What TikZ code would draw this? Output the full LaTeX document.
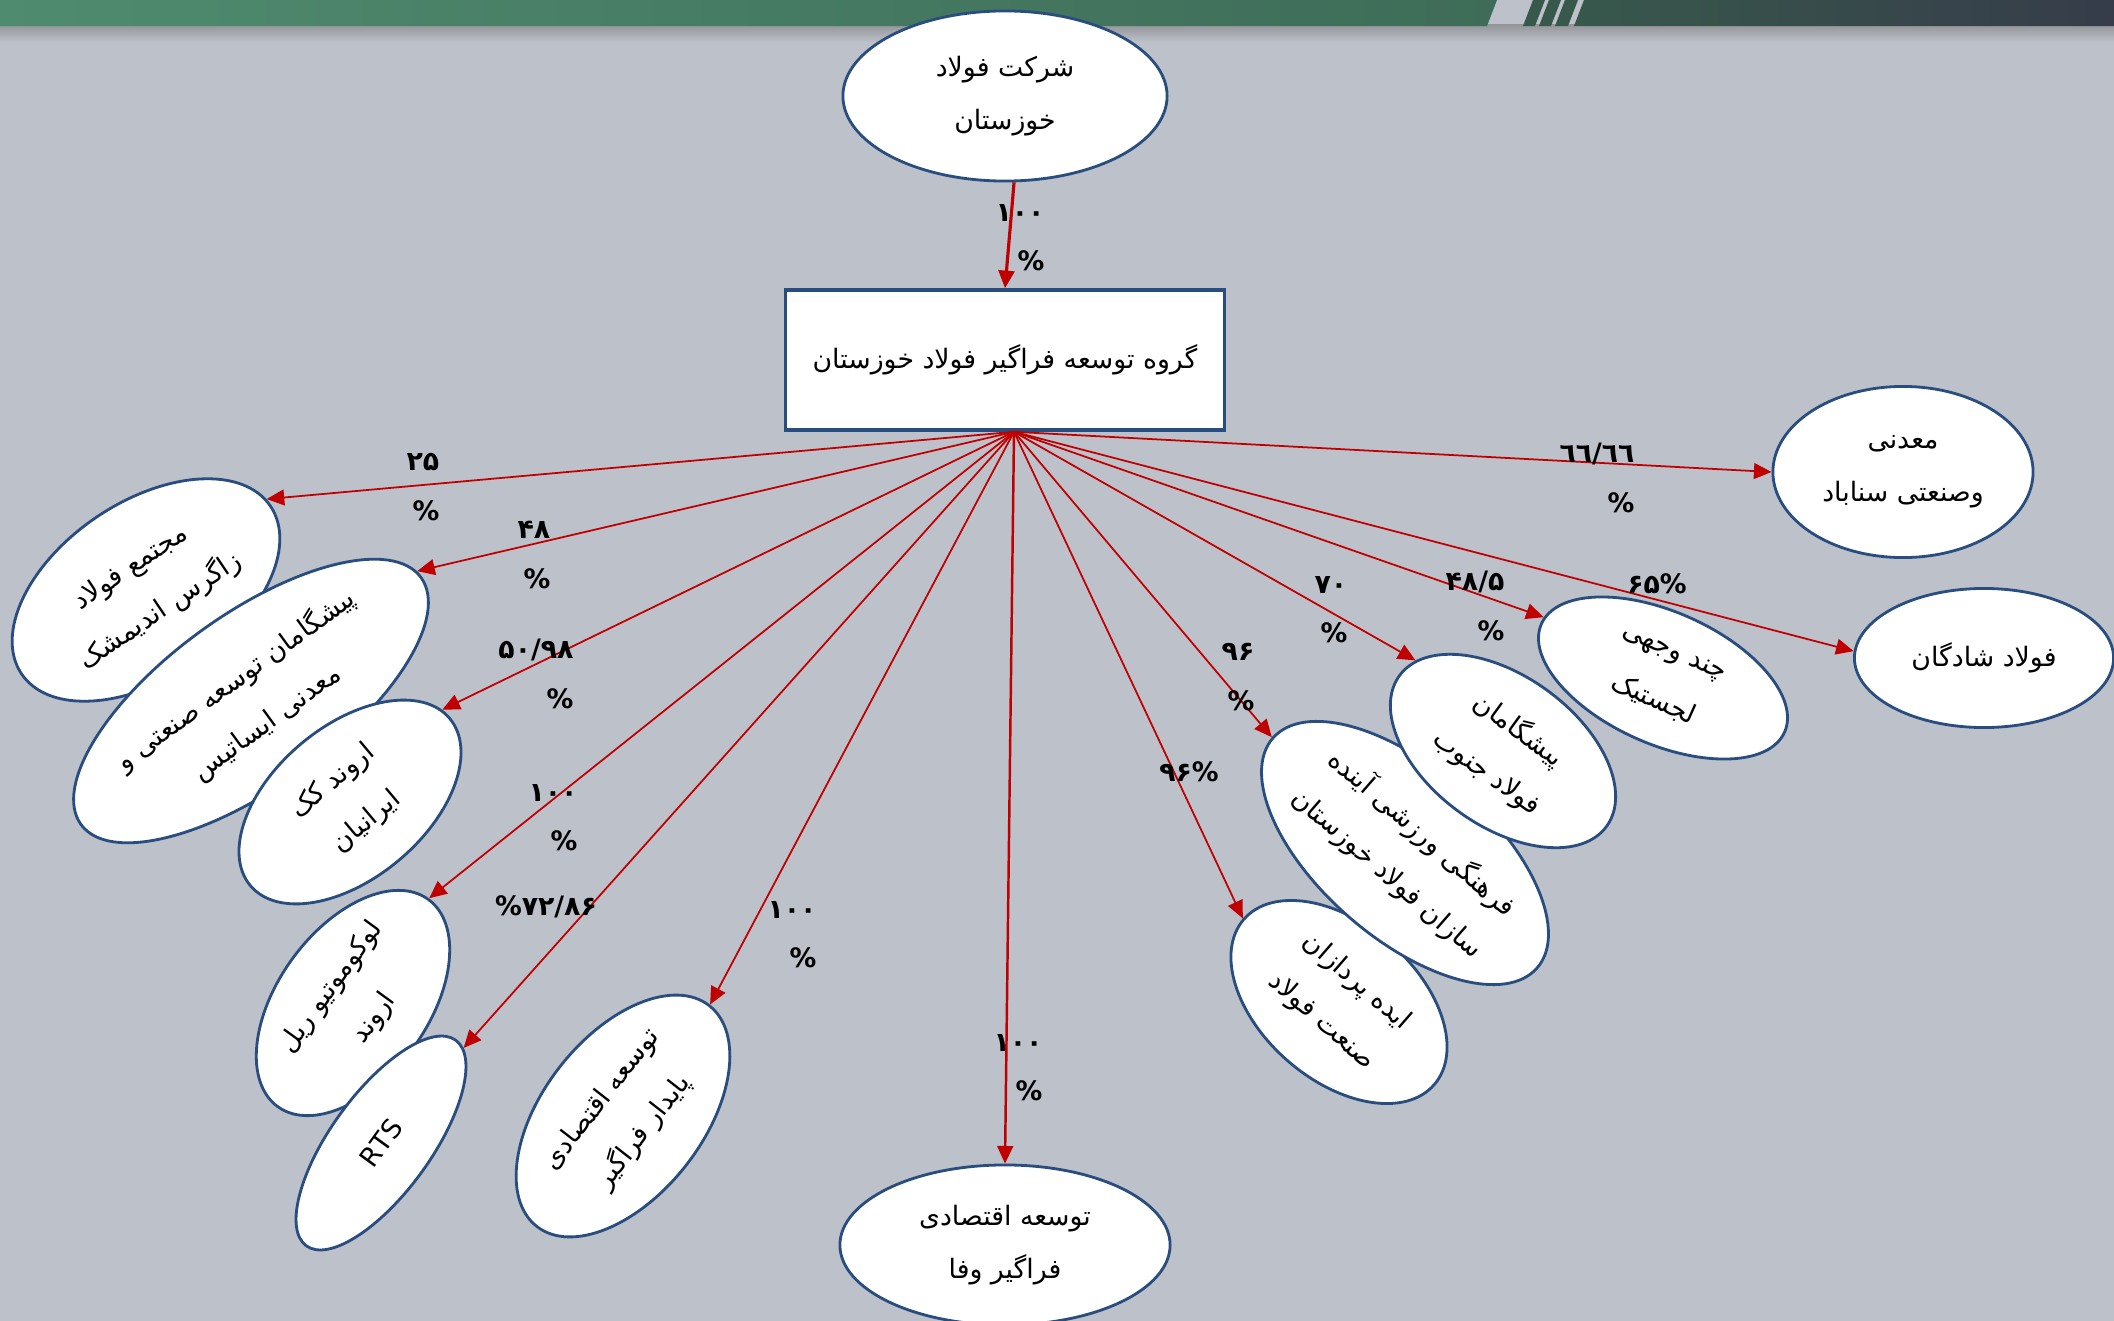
\documentclass[tikz,border=0pt]{standalone}
\usepackage{fontspec}
\usetikzlibrary{arrows.meta,shapes.geometric}
\setmainfont{DejaVu Sans}
\newfontfamily\farsi[Script=Arabic]{DejaVu Sans}
\TeXXeTstate=1
\newcommand\prs[1]{\beginR#1\endR}

\definecolor{bgray}{HTML}{BCC1CA}
\definecolor{edgeblue}{HTML}{2A4D80}
\definecolor{arrowred}{HTML}{C00000}
\definecolor{bargreen}{HTML}{4F8B6F}
\definecolor{bargreenR}{HTML}{3E6C58}
\definecolor{bardarkL}{HTML}{38584C}
\definecolor{bardarkR}{HTML}{363C4A}

\tikzset{
  firm/.style={ellipse, draw=edgeblue, line width=0.8pt, fill=white, inner sep=0pt,
    align=center, font=\farsi\fontsize{7.6}{15}\selectfont},
  link/.style={draw=arrowred, line width=0.5pt, -{Triangle[length=5pt,width=4.5pt]}},
  pct/.style={font=\farsi\bfseries\fontsize{7.6}{14}\selectfont, align=right, inner sep=0pt},
}

\begin{document}
\begin{tikzpicture}[x=0.01cm, y=-0.01cm]
  \useasboundingbox (0,0) rectangle (2114,1321);
  \fill[bgray] (0,0) rectangle (2114,1321);
  % banner at the top
  \shade[top color=gray!70!bgray, bottom color=bgray] (0,24) rectangle (2114,42);
  \shade[left color=bargreen, right color=bargreenR] (0,0) -- (1497,0) -- (1487,26) -- (0,26) -- cycle;
  \fill[bardarkL] (1533,0) -- (1545,0) -- (1535,26) -- (1523,26) -- cycle;
  \fill[bardarkL] (1549,0) -- (1561,0) -- (1551,26) -- (1539,26) -- cycle;
  \fill[bardarkL] (1565,0) -- (1578,0) -- (1568,26) -- (1555,26) -- cycle;
  \shade[left color=bardarkL, right color=bardarkR] (1584,0) -- (2114,0) -- (2114,26) -- (1574,26) -- cycle;

  % parent company and group
  \node[firm, minimum width=3.24cm, minimum height=1.70cm] (sherkat) at (1005,96) {\prs{شرکت فولاد}\\\prs{خوزستان}};
  \node[draw=edgeblue, line width=1pt, fill=white, minimum width=4.39cm, minimum height=1.40cm,
    font=\farsi\fontsize{7.6}{15}\selectfont] (goruh) at (1005,360) {\prs{گروه توسعه فراگیر فولاد خوزستان}};
  \coordinate (hub) at ([xshift=0.09cm]goruh.south);

  % subsidiaries
  \node[firm, minimum width=3.00cm, minimum height=1.76cm, rotate=34] (zagros) at (146,590) {\prs{مجتمع فولاد}\\\prs{زاگرس اندیمشک}};
  \node[firm, minimum width=4.20cm, minimum height=1.72cm, rotate=36] (isatis) at (251,701) {\prs{پیشگامان توسعه صنعتی و}\\\prs{معدنی ایساتیس}};
  \node[firm, minimum width=2.60cm, minimum height=1.52cm, rotate=40] (arvand) at (350,802) {\prs{اروند کک}\\\prs{ایرانیان}};
  \node[firm, minimum width=2.56cm, minimum height=1.50cm, rotate=54] (loko) at (353,1003) {\prs{لوکوموتیو ریل}\\\prs{اروند}};
  \node[firm, minimum width=2.54cm, minimum height=1.00cm, rotate=54] (rts) at (381,1143) {RTS};
  \node[firm, minimum width=2.80cm, minimum height=1.60cm, rotate=52] (paydar) at (623,1116) {\prs{توسعه اقتصادی}\\\prs{پایدار فراگیر}};
  \node[firm, minimum width=3.30cm, minimum height=1.60cm] (vafa) at (1005,1245) {\prs{توسعه اقتصادی}\\\prs{فراگیر وفا}};
  \node[firm, minimum width=2.52cm, minimum height=1.56cm, rotate=-41] (ideh) at (1339,1002) {\prs{ایده پردازان}\\\prs{صنعت فولاد}};
  \node[firm, minimum width=3.50cm, minimum height=1.70cm, rotate=-41] (ayandeh) at (1405,853) {\prs{فرهنگی ورزشی آینده}\\\prs{سازان فولاد خوزستان}};
  \node[firm, minimum width=2.56cm, minimum height=1.50cm, rotate=-36] (jonub) at (1503,751) {\prs{پیشگامان}\\\prs{فولاد جنوب}};
  \node[firm, minimum width=2.66cm, minimum height=1.32cm, rotate=-24] (lojestik) at (1663,678) {\prs{چند وجهی}\\\prs{لجستیک}};
  \node[firm, minimum width=2.59cm, minimum height=1.39cm] (shadegan) at (1984,658) {\prs{فولاد شادگان}};
  \node[firm, minimum width=2.60cm, minimum height=1.71cm] (sanabad) at (1903,472) {\prs{معدنی}\\\prs{وصنعتی سناباد}};

  % ownership links
  \draw[link, line width=0.9pt] (sherkat.-84) -- (goruh.north);
  \draw[link] (hub) -- (zagros.3);
  \draw[link] (hub) -- (isatis.2);
  \draw[link] (hub) -- (arvand.5);
  \draw[link] (hub) -- (loko.0);
  \draw[link] (hub) -- (rts.-5);
  \draw[link] (hub) -- (paydar.0);
  \draw[link, line width=0.7pt] (hub) -- (vafa.north);
  \draw[link] (hub) -- (ideh.180);
  \draw[link] (hub) -- (ayandeh.180);
  \draw[link] (hub) -- (jonub.170);
  \draw[link] (hub) -- (lojestik.177);
  \draw[link] (hub) -- (shadegan.177);
  \draw[link] (hub) -- (sanabad.west);

  % shares
  \node[pct] (p0) at (1020,238) {۱۰۰\\\%};
  \node[pct] (pA) at (423,487) {۲۵\\\%};
  \node[pct] (pB) at (534,555) {۴۸\\\%};
  \node[pct] (pC) at (536,674) {۵۰/۹۸\\\%};
  \node[pct] (pD) at (553,818) {۱۰۰\\\%};
  \node[pct] (pE) at (546,907) {\%۷۲/۸۶};
  \node[pct] (pF) at (792,935) {۱۰۰\\\%};
  \node[pct] (pG) at (1018,1068) {۱۰۰\\\%};
  \node[pct] (pH) at (1189,772) {۹۶\%};
  \node[pct] (pI) at (1238,677) {۹۶\\\%};
  \node[pct] (pJ) at (1331,610) {۷۰\\\%};
  \node[pct] (pK) at (1475,606) {۴۸/۵\\\%};
  \node[pct] (pL) at (1657,584) {۶۵\%};
  \node[pct] (pM) at (1597,478) {٦٦/٦٦\\\%};
\end{tikzpicture}
\end{document}
